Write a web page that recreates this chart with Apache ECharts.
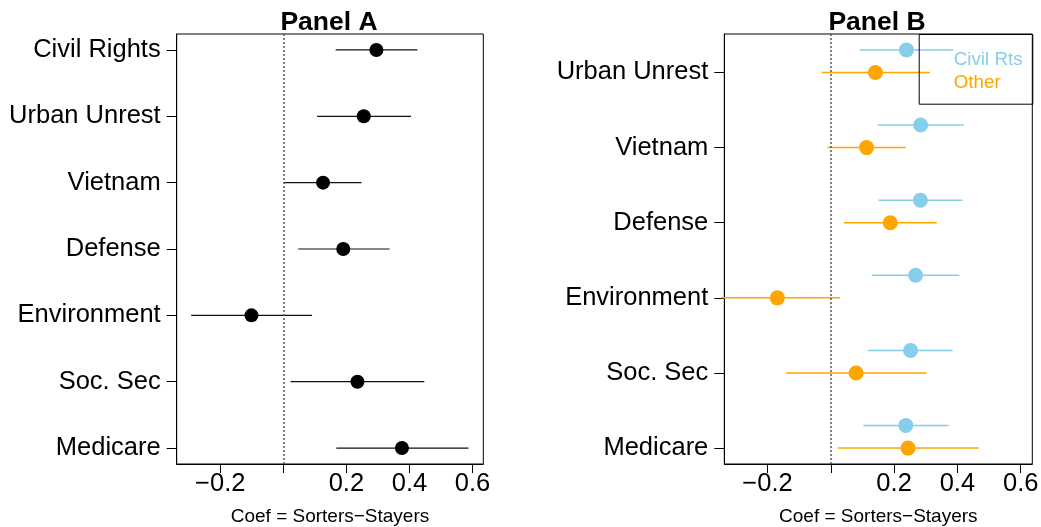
<!DOCTYPE html>
<html>
<head>
<meta charset="utf-8">
<script src="https://cdn.jsdelivr.net/npm/echarts@6/dist/echarts.min.js"></script>
<style>
html,body{margin:0;padding:0;background:#fff;}
#chart{width:1041px;height:527px;}
</style>
</head>
<body>
<div id="chart"></div>
<script>
// ---- Data ----
var catsA = ['Civil Rights', 'Urban Unrest', 'Vietnam', 'Defense', 'Environment', 'Soc. Sec', 'Medicare'];
var estA  = [0.295, 0.255, 0.126, 0.190, -0.101, 0.235, 0.376];
var lowA  = [0.166, 0.107, 0.002, 0.047, -0.292, 0.023, 0.168];
var highA = [0.425, 0.405, 0.248, 0.337, 0.091, 0.447, 0.587];

var catsB   = ['Urban Unrest', 'Vietnam', 'Defense', 'Environment', 'Soc. Sec', 'Medicare'];
var civEst  = [0.239, 0.284, 0.283, 0.268, 0.252, 0.237];
var civLow  = [0.091, 0.148, 0.151, 0.131, 0.118, 0.103];
var civHigh = [0.386, 0.420, 0.416, 0.406, 0.385, 0.373];
var othEst  = [0.141, 0.113, 0.188, -0.169, 0.080, 0.244];
var othLow  = [-0.029, -0.011, 0.041, -0.345, -0.141, 0.022];
var othHigh = [0.313, 0.237, 0.335, 0.029, 0.302, 0.467];

var xTickValues  = [-0.2, 0, 0.2, 0.4, 0.6];
var xLabelValues = [-0.2, 0.2, 0.4, 0.6];
var panelTitles  = ['Panel A', 'Panel B'];
var legendNames  = ['Civil Rts', 'Other'];
var xAxisTitle   = 'Coef = Sorters\u2212Stayers';

// ---- Styles ----
var FONT = 'Liberation Sans, Arial, Helvetica, sans-serif';
var BLUE = '#87CEEB', ORANGE = '#FFA500';
var OFFSET_B = 0.3;

var chart = echarts.init(document.getElementById('chart'));

function fmtX(v) {
  return (v < 0 ? '\u2212' : '') + Math.abs(v).toFixed(1);
}
function seg(low, high, pos) {
  return low.map(function (l, i) { return [l, high[i], pos(i)]; });
}
function pts(est, pos) {
  return est.map(function (e, i) { return [e, pos(i)]; });
}
function segRender(color, width) {
  return function (params, api) {
    var p1 = api.coord([api.value(0), api.value(2)]);
    var p2 = api.coord([api.value(1), api.value(2)]);
    return {
      type: 'line',
      shape: { x1: p1[0], y1: p1[1], x2: p2[0], y2: p2[1] },
      style: { stroke: color, lineWidth: width }
    };
  };
}
function xAxisCfg(gi, min, max) {
  return {
    type: 'value', gridIndex: gi, min: min, max: max,
    axisLine: { show: true, onZero: false, lineStyle: { color: '#000', width: 1 } },
    axisTick: { show: true, length: 9, lineStyle: { color: '#000', width: 1 }, customValues: xTickValues },
    axisLabel: { show: true, fontFamily: FONT, fontSize: 25.5, color: '#000', margin: 7,
                 customValues: xLabelValues, formatter: fmtX },
    splitLine: { show: false },
    name: xAxisTitle, nameLocation: 'middle', nameGap: 43,
    nameTextStyle: { fontFamily: FONT, fontSize: 19, color: '#000' }
  };
}
function yAxisCfg(gi, min, max, cats) {
  var vals = cats.map(function (c, i) { return i + 1; });
  return {
    type: 'value', gridIndex: gi, min: min, max: max, inverse: true,
    axisLine: { show: true, onZero: false, lineStyle: { color: '#000', width: 1 } },
    axisTick: { show: true, length: 10, lineStyle: { color: '#000', width: 1 }, customValues: vals },
    axisLabel: { show: true, fontFamily: FONT, fontSize: 25.5, color: '#000', margin: 16,
                 padding: [4, 0, 0, 0],
                 customValues: vals, formatter: function (v) { return cats[Math.round(v) - 1]; } },
    splitLine: { show: false }
  };
}
var zeroLine = {
  silent: true, symbol: 'none', label: { show: false },
  lineStyle: { color: '#555', width: 1.5, type: [2, 2] },
  data: [{ xAxis: 0 }]
};

var posA = function (i) { return i + 1; };
var posBciv = function (i) { return i + 1 - OFFSET_B; };
var posBoth = function (i) { return i + 1; };

chart.setOption({
  backgroundColor: '#fff',
  animation: false,
  title: [
    { text: panelTitles[0], left: 329, top: 9, padding: 0, textAlign: 'center',
      textStyle: { fontFamily: FONT, fontSize: 26.5, fontWeight: 'bold', color: '#000' } },
    { text: panelTitles[1], left: 877, top: 9, padding: 0, textAlign: 'center',
      textStyle: { fontFamily: FONT, fontSize: 26.5, fontWeight: 'bold', color: '#000' } }
  ],
  grid: [
    { left: 176.7, top: 34, width: 306.6, height: 430, show: true, borderColor: '#000', borderWidth: 1,
      backgroundColor: 'transparent', containLabel: false, outerBoundsMode: 'none' },
    { left: 724.3, top: 34, width: 308, height: 430, show: true, borderColor: '#000', borderWidth: 1,
      backgroundColor: 'transparent', containLabel: false, outerBoundsMode: 'none' }
  ],
  xAxis: [ xAxisCfg(0, -0.338, 0.634), xAxisCfg(1, -0.3365, 0.6367) ],
  yAxis: [ yAxisCfg(0, 0.76, 7.24, catsA), yAxisCfg(1, 0.488, 6.212, catsB) ],
  series: [
    { type: 'custom', name: 'A-ci', xAxisIndex: 0, yAxisIndex: 0, clip: false,
      renderItem: segRender('#111', 1.2), data: seg(lowA, highA, posA), z: 3,
      markLine: zeroLine },
    { type: 'scatter', name: 'A-est', xAxisIndex: 0, yAxisIndex: 0, symbolSize: 14,
      itemStyle: { color: '#000', opacity: 1 }, data: pts(estA, posA), z: 4 },
    { type: 'custom', name: 'B-civ-ci', xAxisIndex: 1, yAxisIndex: 1, clip: false,
      renderItem: segRender(BLUE, 1.5), data: seg(civLow, civHigh, posBciv), z: 3,
      markLine: zeroLine },
    { type: 'custom', name: 'B-oth-ci', xAxisIndex: 1, yAxisIndex: 1, clip: false,
      renderItem: segRender(ORANGE, 1.5), data: seg(othLow, othHigh, posBoth), z: 3 },
    { type: 'scatter', name: legendNames[0], xAxisIndex: 1, yAxisIndex: 1, symbolSize: 15,
      itemStyle: { color: BLUE, opacity: 1 }, data: pts(civEst, posBciv), z: 4 },
    { type: 'scatter', name: legendNames[1], xAxisIndex: 1, yAxisIndex: 1, symbolSize: 15,
      itemStyle: { color: ORANGE, opacity: 1 }, data: pts(othEst, posBoth), z: 4 }
  ],
  graphic: [
    { type: 'rect', left: 918.7, top: 34, z: 10,
      shape: { width: 113.6, height: 69.7 },
      style: { fill: 'transparent', stroke: '#000', lineWidth: 1 } },
    { type: 'text', left: 953.7, top: 50, z: 11,
      style: { text: legendNames[0], fill: BLUE, font: '18.8px ' + FONT } },
    { type: 'text', left: 953.7, top: 73, z: 11,
      style: { text: legendNames[1], fill: ORANGE, font: '18.8px ' + FONT } }
  ]
});
</script>
</body>
</html>
